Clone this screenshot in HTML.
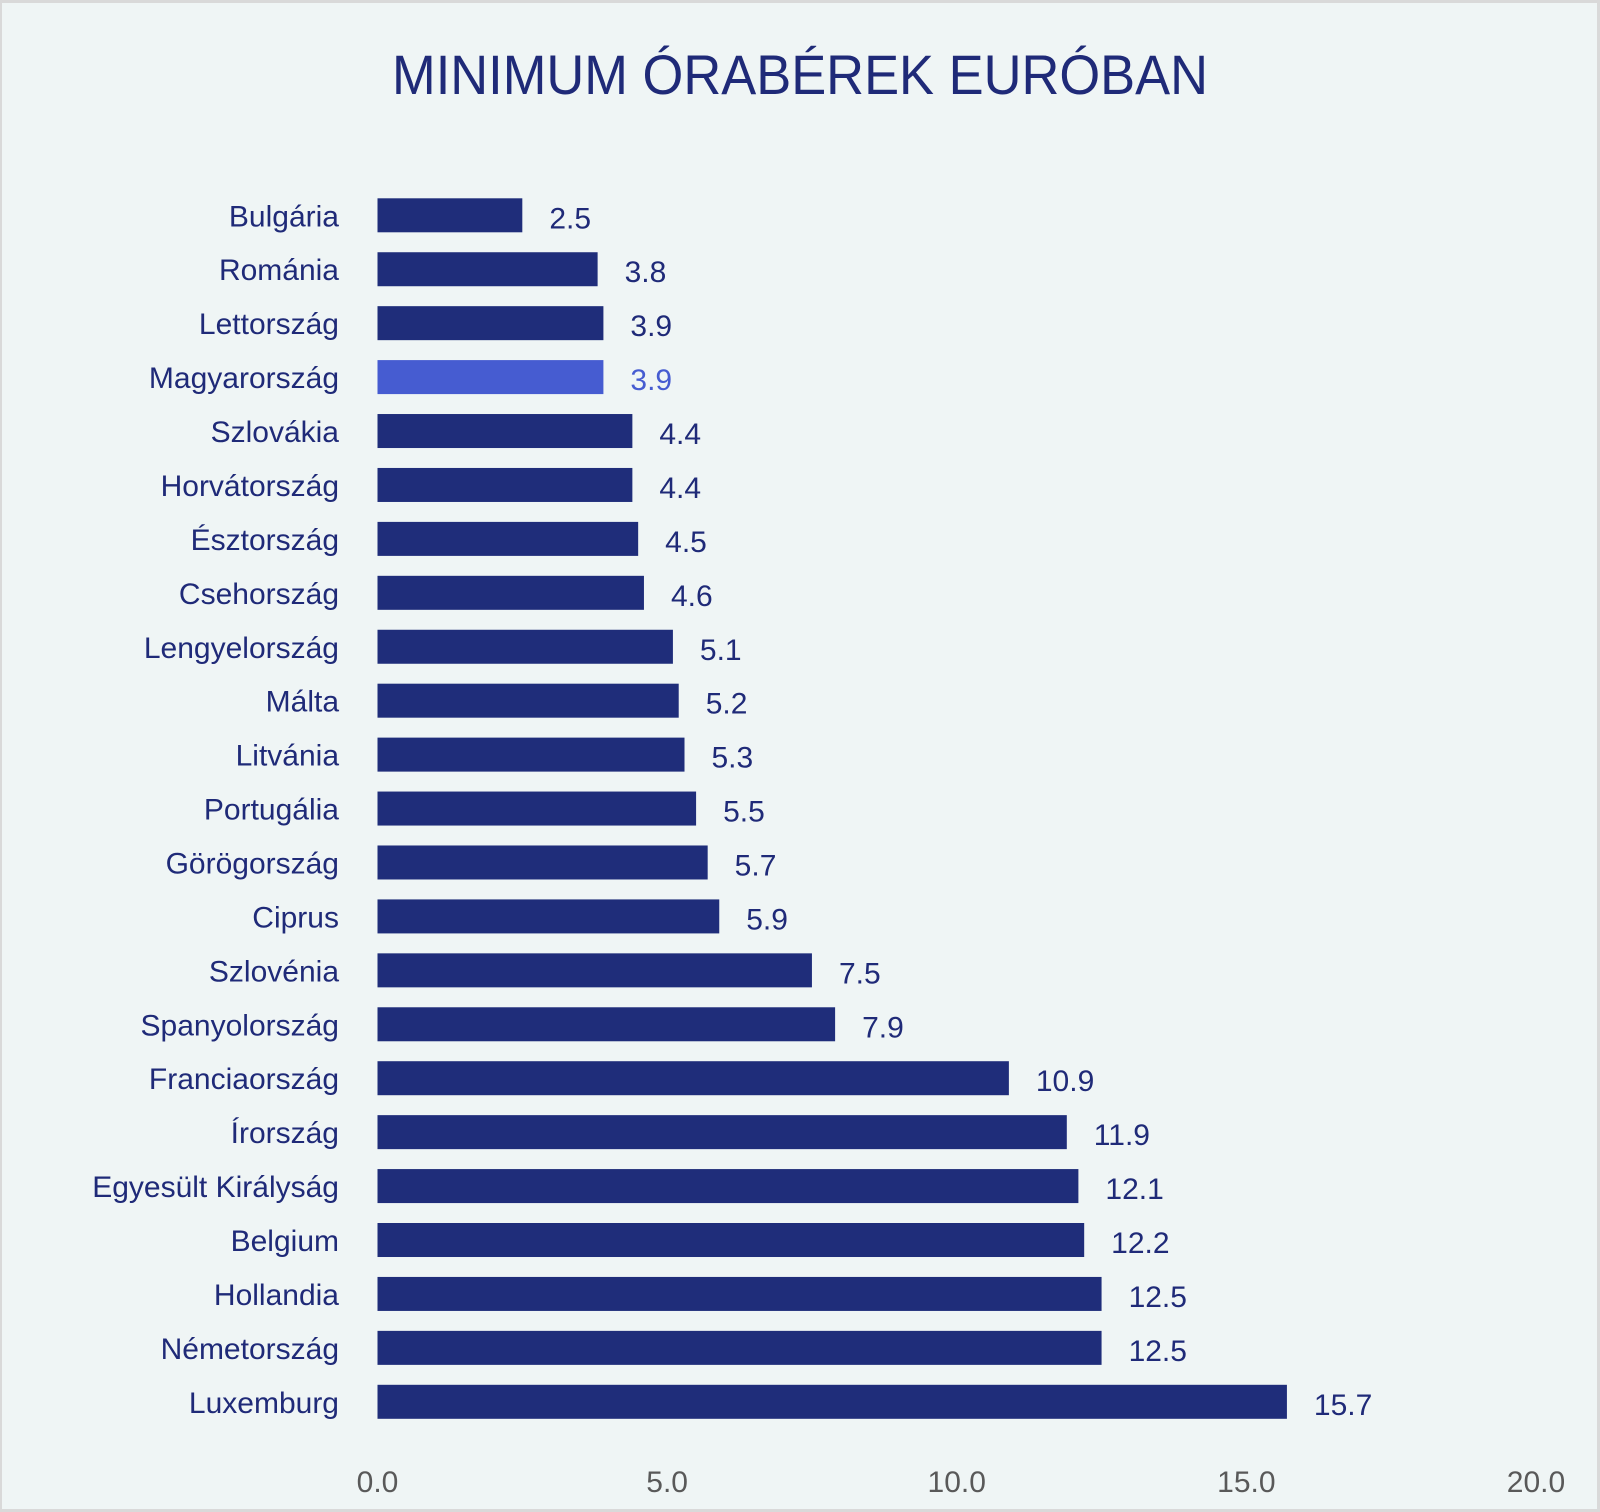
<!DOCTYPE html>
<html><head><meta charset="utf-8">
<style>
html,body{margin:0;padding:0;background:#fff}
svg{display:block}
text{font-family:"Liberation Sans",sans-serif}
</style></head>
<body>
<svg id="chart" width="1600" height="1512" viewBox="0 0 1600 1512">
<rect x="0" y="0" width="1600" height="1512" fill="#d9d9d9"/>
<rect x="2" y="3" width="1595" height="1506" fill="#eff5f5"/>
<text x="800" y="94" text-anchor="middle" font-size="56" fill="#1f2a78" textLength="816" lengthAdjust="spacingAndGlyphs">MINIMUM ÓRABÉREK EURÓBAN</text>
<g id="bars"></g>
<g id="ticks"></g>
</svg>
<script>
const categories = ["Bulgária","Románia","Lettország","Magyarország","Szlovákia","Horvátország","Észtország","Csehország","Lengyelország","Málta","Litvánia","Portugália","Görögország","Ciprus","Szlovénia","Spanyolország","Franciaország","Írország","Egyesült Királyság","Belgium","Hollandia","Németország","Luxemburg"];
const values = [2.5,3.8,3.9,3.9,4.4,4.4,4.5,4.6,5.1,5.2,5.3,5.5,5.7,5.9,7.5,7.9,10.9,11.9,12.1,12.2,12.5,12.5,15.7];
const highlighted = ["Magyarország"];
const tickValues = [0,5,10,15,20];
const tickLabels = ["0.0","5.0","10.0","15.0","20.0"];

const NS = "http://www.w3.org/2000/svg";
const x0 = 377.5, xMax = 20, plotW = 1536 - 377.5;
const xScale = v => x0 + v / xMax * plotW;
const yTop = 215.3, yStep = (1401.8 - 215.3) / (categories.length - 1);
const yScale = i => yTop + i * yStep;
const barH = 34;
const bars = document.getElementById('bars');
const ticks = document.getElementById('ticks');

categories.forEach((c, i) => {
  const hl = highlighted.includes(c);
  const cy = yScale(i);
  const r = document.createElementNS(NS, 'rect');
  r.setAttribute('x', xScale(0));
  r.setAttribute('y', cy - barH / 2);
  r.setAttribute('width', xScale(values[i]) - xScale(0));
  r.setAttribute('height', barH);
  r.setAttribute('fill', hl ? '#465cd1' : '#1f2d7a');
  
  
  bars.appendChild(r);

  const l = document.createElementNS(NS, 'text');
  l.setAttribute('x', 339);
  l.setAttribute('y', cy + 11);
  l.setAttribute('text-anchor', 'end');
  l.setAttribute('font-size', '30');
  l.setAttribute('fill', '#1f2a78');
  l.textContent = c;
  
  
  bars.appendChild(l);

  const v = document.createElementNS(NS, 'text');
  v.setAttribute('x', xScale(values[i]) + 27);
  v.setAttribute('y', cy + 13);
  v.setAttribute('font-size', '30');
  v.setAttribute('fill', hl ? '#465cd1' : '#1f2a78');
  v.textContent = values[i].toFixed(1);
  
  
  bars.appendChild(v);
});

tickValues.forEach((t, i) => {
  const tx = document.createElementNS(NS, 'text');
  tx.setAttribute('x', xScale(t));
  tx.setAttribute('y', 1492);
  tx.setAttribute('text-anchor', 'middle');
  tx.setAttribute('font-size', '30');
  tx.setAttribute('fill', '#595959');
  tx.textContent = tickLabels[i];
  
  
  ticks.appendChild(tx);
});
</script>
</body></html>
